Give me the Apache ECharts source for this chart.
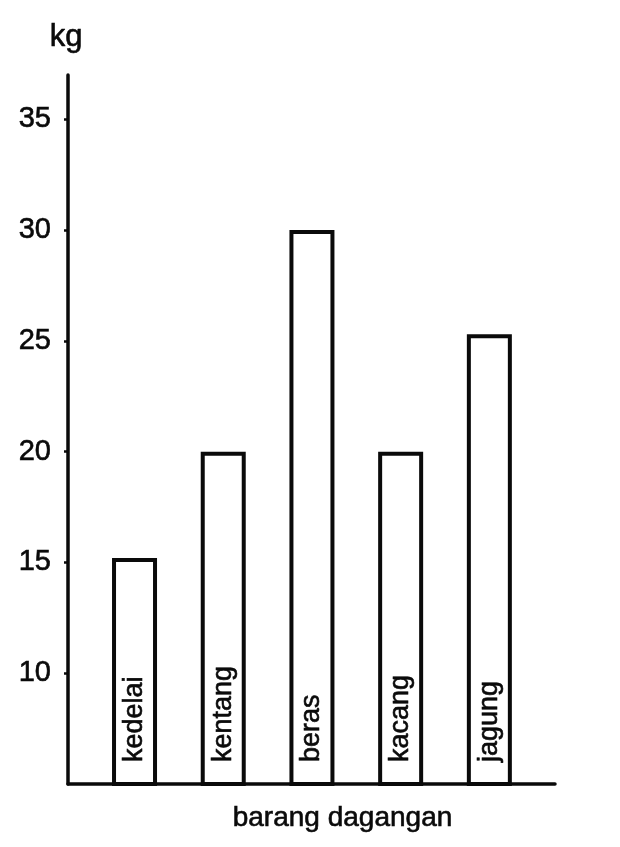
<!DOCTYPE html>
<html>
<head>
<meta charset="utf-8">
<script src="https://cdn.jsdelivr.net/npm/echarts@6/dist/echarts.min.js"></script>
<style>html,body{margin:0;padding:0;background:#fff;}#c{width:620px;height:847px;}</style>
</head>
<body>
<div id="c"></div>
<script>
var categories = ['kedelai', 'kentang', 'beras', 'kacang', 'jagung'];
var values = [15.2, 20, 30, 20, 25.3];
var yTicks = [10, 15, 20, 25, 30, 35];
var yName = 'kg';
var xName = 'barang dagangan';

var FONT = '"Liberation Sans", Arial, Helvetica, sans-serif';
var INK = '#0a0a0a';
var TB = {textBorderColor: INK, textBorderWidth: 0.6};

var chart = echarts.init(document.getElementById('c'), null, {renderer: 'canvas'});
chart.setOption({
  animation: false,
  backgroundColor: '#fff',
  grid: {left: 68, right: 65, top: 75, bottom: 63, containLabel: false},
  xAxis: {
    type: 'value', min: -0.75, max: 4.74,
    splitLine: {show: false},
    axisTick: {show: false},
    axisLabel: {show: false},
    axisLine: {show: true, onZero: false, lineStyle: {color: INK, width: 3.5}},
    name: xName, nameLocation: 'middle', nameGap: 20,
    nameTextStyle: Object.assign({fontFamily: FONT, fontSize: 28, color: INK, padding: [0, 0, 0, 62], verticalAlign: 'top'}, TB)
  },
  yAxis: {
    type: 'value', min: 5, max: 37, interval: 5,
    splitLine: {show: false},
    axisLine: {show: true, onZero: false, lineStyle: {color: INK, width: 3.5}},
    axisTick: {show: true, inside: false, length: 4, customValues: yTicks, lineStyle: {color: INK, width: 2.5}},
    axisLabel: Object.assign({show: true, customValues: yTicks, margin: 17, fontFamily: FONT, fontSize: 29, color: INK}, TB),
    name: yName, nameLocation: 'end', nameGap: 22,
    nameTextStyle: Object.assign({fontFamily: FONT, fontSize: 31, color: INK, align: 'center', padding: [0, 4, 0, 0]}, TB)
  },
  series: [{
    type: 'bar',
    barWidth: 45,
    data: categories.map(function (c, i) { return {name: c, value: [i, values[i]]}; }),
    itemStyle: {color: '#fff', borderColor: INK, borderWidth: 4},
    label: Object.assign({
      show: true, position: 'insideBottom', rotate: 90, distance: 24,
      align: 'left', verticalAlign: 'middle',
      formatter: '{b}', fontFamily: FONT, fontSize: 27, color: INK
    }, TB)
  }]
});
</script>
</body>
</html>
